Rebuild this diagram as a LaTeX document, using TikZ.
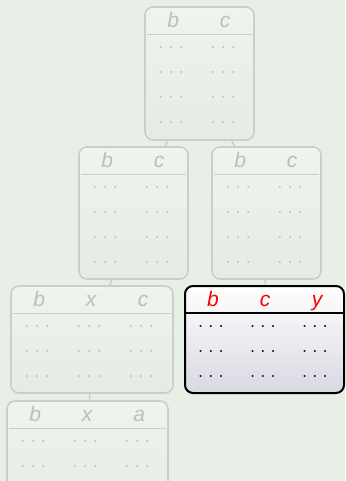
\documentclass[tikz,border=0pt]{standalone}
\usepackage{fontspec}
\setmainfont{Liberation Sans}
\usetikzlibrary{positioning}

\definecolor{bgcol}{RGB}{232,239,230}
\definecolor{fadeline}{RGB}{201,208,199}
\definecolor{fadetext}{RGB}{186,193,185}
\definecolor{fadetop}{RGB}{239,244,238}
\definecolor{fadebot}{RGB}{229,236,227}
\definecolor{hotbot}{RGB}{216,216,225}

\begin{document}
\begin{tikzpicture}[
    x=1pt, y=-1pt, % pixel-like units, y down
    % Style definitions
    faded box/.style 2 args={draw=fadeline, line width=1.6pt, rounded corners=8pt, top color=fadetop, bottom color=fadebot, minimum width=#1, minimum height=#2, inner sep=0pt},
    hot box/.style 2 args={draw=black, line width=2pt, rounded corners=8pt, top color=white, bottom color=hotbot, minimum width=#1, minimum height=#2, inner sep=0pt},
    % Text styles
    faded head/.style={text=fadetext, font=\fontsize{21}{24}\selectfont\itshape, inner sep=0pt, anchor=base},
    hot head/.style={text=red, font=\fontsize{21}{24}\selectfont\itshape, inner sep=0pt, anchor=base},
    faded dots/.style={text=fadetext, font=\fontsize{20}{24}\selectfont, inner sep=0pt, anchor=base},
    hot dots/.style={text=black, font=\fontsize{20}{24}\selectfont, inner sep=0pt, anchor=base},
    % Lines
    faded rule/.style={draw=fadeline, line width=1.2pt},
    hot rule/.style={draw=black, line width=1.4pt},
    faded link/.style={draw=fadeline, line width=1.6pt}
]

% Background and frame
\useasboundingbox (0,0) rectangle (345,481);
\fill[bgcol] (0,0) rectangle (345,481);
\clip (0,0) rectangle (345,481);

% ==========================================
% 1. TOP TABLE
% ==========================================
\node[faded box={109pt}{133pt}] (top) at (199.5,73.5) {};
\draw[faded rule] ([shift={(3,28)}]top.north west) -- ([shift={(-3,28)}]top.north east);
\foreach \x/\t [count=\i] in {27/b, 79/c}{
    \node[faded head] (top-h\i) at ([shift={(\x+2,21)}]top.north west) {\t};
    \foreach \r in {1,...,4}
        \node[faded dots] (top-\r-\i) at ([shift={(\x,{42.5+25*(\r-1)})}]top.north west) {$.\:.\:.$};
}

% ==========================================
% 2. MIDDLE TABLES
% ==========================================
\node[faded box={109pt}{132pt}] (midL) at (133.5,213) {};
\draw[faded rule] ([shift={(3,28)}]midL.north west) -- ([shift={(-3,28)}]midL.north east);
\foreach \x/\t [count=\i] in {27/b, 79/c}{
    \node[faded head] (midL-h\i) at ([shift={(\x+2,21)}]midL.north west) {\t};
    \foreach \r in {1,...,4}
        \node[faded dots] (midL-\r-\i) at ([shift={(\x,{42.5+25*(\r-1)})}]midL.north west) {$.\:.\:.$};
}

\node[faded box={109pt}{132pt}] (midR) at (266.5,213) {};
\draw[faded rule] ([shift={(3,28)}]midR.north west) -- ([shift={(-3,28)}]midR.north east);
\foreach \x/\t [count=\i] in {27/b, 79/c}{
    \node[faded head] (midR-h\i) at ([shift={(\x+2,21)}]midR.north west) {\t};
    \foreach \r in {1,...,4}
        \node[faded dots] (midR-\r-\i) at ([shift={(\x,{42.5+25*(\r-1)})}]midR.north west) {$.\:.\:.$};
}

% ==========================================
% 3. LOWER TABLES
% ==========================================
\node[faded box={162pt}{107pt}] (botL) at (92,339.5) {};
\draw[faded rule] ([shift={(3,28)}]botL.north west) -- ([shift={(-3,28)}]botL.north east);
\foreach \x/\t [count=\i] in {27/b, 79/x, 131/c}{
    \node[faded head] (botL-h\i) at ([shift={(\x+2,21)}]botL.north west) {\t};
    \foreach \r in {1,...,3}
        \node[faded dots] (botL-\r-\i) at ([shift={(\x,{42.5+25*(\r-1)})}]botL.north west) {$.\:.\:.$};
}

% highlighted table
\node[hot box={159pt}{107pt}] (hot) at (264.5,339.5) {};
\draw[hot rule] ([shift={(2,28)}]hot.north west) -- ([shift={(0,28)}]hot.north east);
\foreach \x/\t [count=\i] in {27/b, 79/c, 131/y}{
    \node[hot head] (hot-h\i) at ([shift={(\x+2,21)}]hot.north west) {\t};
    \foreach \r in {1,...,3}
        \node[hot dots] (hot-\r-\i) at ([shift={(\x,{42.5+25*(\r-1)})}]hot.north west) {$.\:.\:.$};
}

% bottom table (cut off at the page edge)
\node[faded box={161pt}{107pt}] (bot) at (87.5,454.5) {};
\draw[faded rule] ([shift={(3,28)}]bot.north west) -- ([shift={(-3,28)}]bot.north east);
\foreach \x/\t [count=\i] in {27/b, 79/x, 131/a}{
    \node[faded head] (bot-h\i) at ([shift={(\x+2,21)}]bot.north west) {\t};
    \foreach \r in {1,2}
        \node[faded dots] (bot-\r-\i) at ([shift={(\x,{42.5+25*(\r-1)})}]bot.north west) {$.\:.\:.$};
}

% ==========================================
% 4. CONNECTORS
% ==========================================
\draw[faded link] (top) -- (midL);
\draw[faded link] (top) -- (midR);
\draw[faded link] (midL) -- (botL);
\draw[faded link] (midR) -- (hot);
\draw[faded link] (botL) -- (bot);

\end{tikzpicture}
\end{document}
